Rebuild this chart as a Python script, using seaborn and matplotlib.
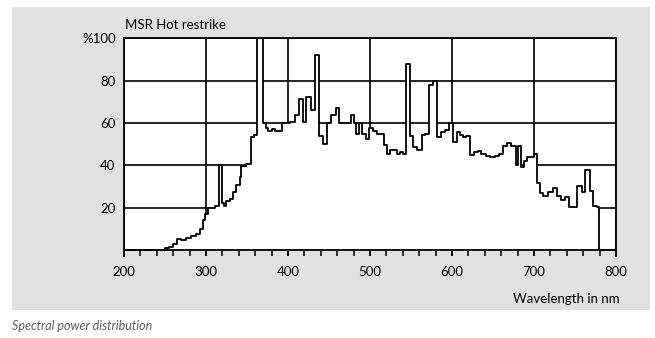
import numpy as np
import pandas as pd
import matplotlib
matplotlib.use("Agg")
import matplotlib.pyplot as plt
import seaborn as sns
from matplotlib.patches import Rectangle

# ---- data (start wavelength of each step, nm) ----
step_start_nm = [
    200, 250, 255, 260, 265, 270, 276, 282, 288, 293, 296, 299, 302, 311, 316, 319,
    322, 325, 329, 333, 337, 341, 343, 349, 355, 359, 362, 369, 373, 376, 380,
    384, 393, 402, 408, 413, 418, 422, 428, 432.5, 438, 443, 448, 453, 458, 462,
    476.5, 480, 483, 487, 490, 495, 499, 504, 508, 517, 521, 524, 528, 533, 537,
    540.5, 543.5, 548.5, 552.5, 557.5, 563.5, 567.5, 572, 577, 582, 586, 592, 596,
    601, 606, 609.5, 613.5, 617.5, 622.5, 626.5, 631.5, 635.5, 641, 646, 652, 657,
    662.5, 666.5, 672, 677.5, 680.5, 684, 688, 691, 700, 704, 707.5, 711.5, 717.5,
    723, 728, 733, 738, 743, 752, 758, 762, 768, 772, 776.5, 779,
]
step_level = [
    0, 1, 1.5, 3, 5, 4.5, 5.5, 6.5, 7.5, 10, 14, 17, 20, 21, 40, 22,
    21, 23, 24, 27.5, 30.5, 34.5, 39.5, 40.5, 53.5, 54.5, 110, 60, 57.5, 56, 57,
    56, 60, 60.5, 64, 71.5, 60.5, 72.5, 66, 92, 54, 50, 60, 64, 67, 60,
    64, 60, 54.6, 60, 54.6, 52.6, 57.8, 56.2, 54.6, 49.4, 45.5, 47.4, 47.1, 45.5, 46.3,
    45.5, 88, 53.7, 48.7, 47.4, 54.2, 55, 78, 80, 53.5, 55.6, 56.7, 59.8,
    51, 55.6, 54.5, 53.2, 54, 45, 46.1, 46.9, 45.4, 44.6, 43.8, 44.6, 45.4,
    49.3, 50.4, 49.3, 40.3, 49.3, 39.4, 42.2, 43.8, 45.5, 31.5, 27, 25.3, 27.5,
    29.5, 25.3, 23.6, 25, 20.5, 30, 27.5, 37.8, 28, 21, 20.2, 0,
]
end_nm = 800

x_ticks = [200, 300, 400, 500, 600, 700, 800]
x_minor = list(range(200, 801, 20))
y_ticks = [20, 40, 60, 80, 100]
y_labels = ["20", "40", "60", "80", "%100"]

title_text = "MSR Hot restrike"
xlabel_text = "Wavelength in nm"
caption_text = "Spectral power distribution"

# ---- styling ----
sns.set_theme(style="white")
plt.rcParams["font.family"] = ["Lato", "DejaVu Sans"]

W, H = 655, 338
PLOT_H_PX = 211.7          # height of the 0..100 area in pixels
TICK_PX = 6.0              # tick length below the axis, pixels
y_low = -TICK_PX * 100 / PLOT_H_PX

fig = plt.figure(figsize=(W / 100, H / 100), dpi=100)
fig.patch.set_facecolor("white")
fig.patches.append(Rectangle((12 / W, 1 - 310 / H), 638 / W, 303 / H,
                             transform=fig.transFigure, facecolor="#e1e1e1",
                             edgecolor="none", zorder=-10))

ax = fig.add_axes([124 / W, 1 - (250 + TICK_PX) / H, 492 / W,
                   (PLOT_H_PX + TICK_PX) / H])
ax.set_zorder(1)
ax.set_facecolor("none")
ax.axhspan(0, 100, facecolor="white", lw=0, zorder=0.1)

df = pd.DataFrame({"wl": step_start_nm + [end_nm],
                   "level": step_level + [step_level[-1]]})

ax.fill_between(df["wl"], df["level"], step="post", color="white", lw=0, zorder=2)
sns.lineplot(data=df, x="wl", y="level", drawstyle="steps-post", color="black",
             lw=1.3, ax=ax, zorder=3, sort=False)

ax.set_xlim(200, 800)
ax.set_ylim(y_low, 100)
ax.set_xticks(x_ticks)
ax.set_xticklabels([str(t) for t in x_ticks])
ax.set_yticks(y_ticks)
ax.set_yticklabels(y_labels)
ax.set_xlabel("")
ax.set_ylabel("")

ax.set_axisbelow(True)
ax.grid(True, which="major", color="black", lw=1.2)
for name, s in ax.spines.items():
    s.set_color("black")
    s.set_linewidth(1.3)
    s.set_zorder(5)
    s.set_visible(name != "bottom")

# baseline of the plot at 0 and the tick marks every 20 nm hanging below it
ax.axhline(0, color="black", lw=1.3, zorder=5)
tick_x, tick_y = [], []
for t in x_minor:
    tick_x += [t, t, np.nan]
    tick_y += [y_low, 0, np.nan]
ax.plot(tick_x, tick_y, color="black", lw=1.1, zorder=5)

ax.tick_params(axis="x", which="both", length=0, pad=7, labelsize=9.5,
               labelcolor="black")
ax.tick_params(axis="y", which="both", length=0, pad=6, labelsize=9.5,
               labelcolor="black")

fig.text(125 / W, 1 - 25 / H, title_text, ha="left", va="center",
         fontsize=9.5, color="black")
fig.text(620 / W, 1 - 299 / H, xlabel_text, ha="right", va="center",
         fontsize=9.5, color="black")
fig.text(12 / W, 1 - 326 / H, caption_text, ha="left", va="center",
         fontsize=9, color="#5f5f5f", style="italic")

fig.savefig("out.png", dpi=100, facecolor=fig.get_facecolor())
